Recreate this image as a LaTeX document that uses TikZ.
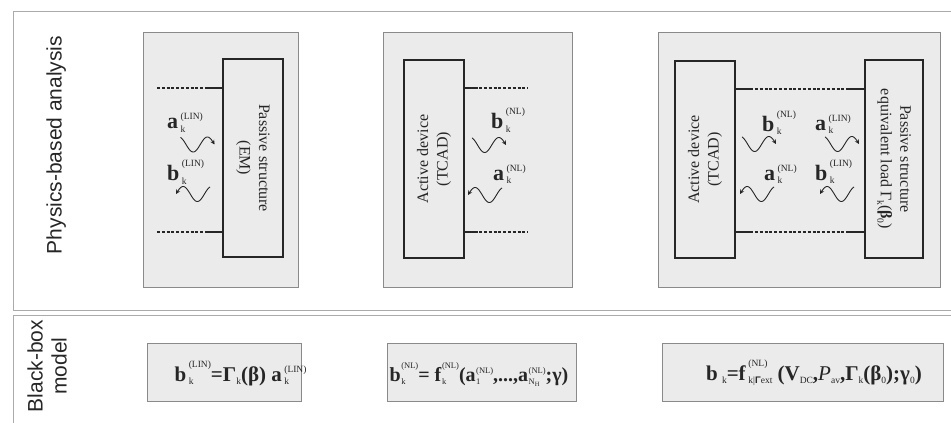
\documentclass[tikz,border=0pt]{standalone}
\usepackage{fontspec}
\setmainfont{Liberation Serif}
\setsansfont{Liberation Sans}
\usetikzlibrary{arrows.meta}

\definecolor{panelfill}{HTML}{EBEBEB}
\definecolor{panelline}{HTML}{8A8A8A}
\definecolor{frameline}{HTML}{ABABAB}
\definecolor{ink}{HTML}{262626}

% stacked sub/superscripts on a wave symbol
\newsavebox\subbx
\newsavebox\supbx
\newsavebox\basebx
\newlength\scrw
\newlength\supraise
\newlength\scrgap
\setlength\scrgap{2.5pt}
\def\scrpt{9.5}
\newcommand\scrfont{\fontsize{\scrpt}{10}\selectfont\mdseries\upshape}
\newcommand\wv[3]{%
  \sbox\basebx{#1}%
  \sbox\subbx{\scrfont #2}%
  \sbox\supbx{\scrfont #3}%
  \ifdim\wd\subbx>\wd\supbx \setlength\scrw{\wd\subbx}\else\setlength\scrw{\wd\supbx}\fi
  \setlength\supraise{\ht\basebx}\addtolength\supraise{-1.5pt}%
  \usebox\basebx\kern\scrgap\rlap{\raisebox{-3.5pt}{\usebox\subbx}}\rlap{\raisebox{\supraise}{\usebox\supbx}}\hspace{\scrw}}
\newcommand\lo[1]{\raisebox{-3.5pt}{\scrfont #1}}
\newcommand\loH{\raisebox{-2pt}{\fontsize{6.5}{7}\selectfont H}}

\begin{document}
\begin{tikzpicture}[x=1pt,y=-1pt,
  panel/.style={draw=panelline, fill=panelfill, line width=0.8pt, inner sep=0pt},
  block/.style={draw=ink, line width=1.4pt, inner sep=0pt},
  blocktext/.style={text=ink, font=\fontsize{16}{19.5}\selectfont, align=center, inner sep=0pt},
  port/.style={draw=ink, line width=1.3pt, dash pattern=on 3pt off 1.8pt},
  lead/.style={draw=ink, line width=1.3pt},
  lbl/.style={text=ink, font=\fontsize{22}{22}\selectfont, inner sep=0pt, anchor=base west},
  formula/.style={text=ink, font=\fontsize{21}{21}\selectfont, inner sep=0pt, anchor=base},
  tightformula/.style={text=ink, font={\fontsize{20}{20}\selectfont\def\scrpt{8.5}\setlength\scrgap{0.5pt}}, inner sep=0pt, anchor=base},
  side/.style={text=ink, font=\sffamily\fontsize{21}{24}\selectfont, align=center, inner sep=0pt, rotate=90},
  frame/.style={draw=frameline, line width=0.8pt},
  wavy/.style={draw=ink, line width=0.9pt, -{Stealth[length=4.5pt,width=4.5pt]}},
  wavr/.pic={\path[wavy] plot[domain=20:450, samples=50, smooth] ({(\x-20)/430*34}, {-7.5*cos(\x)});},
  wavl/.pic={\path[wavy] plot[domain=20:450, samples=50, smooth] ({34-(\x-20)/430*34}, {-7.5*cos(\x)});}
]
\useasboundingbox (0,0) rectangle (951,423);
\begin{scope}
\clip (0,0) rectangle (951,423);

% outer frames of the two rows
\draw[frame] (960,11) -- (13,11) -- (13,310) -- (960,310);
\draw[frame] (960,315) -- (13,315) -- (13,430);

% row captions
\node[side, anchor=base] (phys) at (61.5,145) {Physics-based analysis};
\node[side] (bbox) at (47,366) {Black-box\\model};

% ---------- first column: passive structure ----------
\node[panel, minimum width=155pt, minimum height=255pt] (g1) at (220.5,159.5) {};
\node[block, minimum width=60pt, minimum height=198pt] (r1) at (253,158) {};
\node[blocktext, rotate=-90] (t1) at (r1.center) {Passive structure\\(EM)};
\coordinate (p1u) at (157,88);
\coordinate (p1d) at (157,232);
\draw[port] (p1u) -- (p1u -| r1.west);
\draw[lead] ([xshift=-16pt]p1u -| r1.west) -- (p1u -| r1.west);
\draw[port] (p1d) -- (p1d -| r1.west);
\draw[lead] ([xshift=-16pt]p1d -| r1.west) -- (p1d -| r1.west);
\node[lbl] (a1) at (167,128.5) {\wv{\textbf{a}}{k}{(LIN)}};
\node[lbl] (b1) at (167,180.5) {\wv{\textbf{b}}{k}{(LIN)}};
\pic at (180.5,144.5) {wavr};
\pic at (176,194) {wavl};

% ---------- second column: active device ----------
\node[panel, minimum width=189pt, minimum height=255pt] (g2) at (477.5,159.5) {};
\node[block, minimum width=60pt, minimum height=198pt] (r2) at (434,159) {};
\node[blocktext, rotate=90] (t2) at (r2.center) {Active device\\(TCAD)};
\coordinate (p2u) at (528,88);
\coordinate (p2d) at (528,232);
\draw[port] (p2u -| r2.east) -- (p2u);
\draw[lead] (p2u -| r2.east) -- ([xshift=13pt]p2u -| r2.east);
\draw[port] (p2d -| r2.east) -- (p2d);
\draw[lead] (p2d -| r2.east) -- ([xshift=13pt]p2d -| r2.east);
\node[lbl] (b2) at (491,128.5) {\wv{\textbf{b}}{k}{(NL)}};
\node[lbl] (a2) at (493,180) {\wv{\textbf{a}}{k}{(NL)}};
\pic at (472,145) {wavr};
\pic at (468,195) {wavl};

% ---------- third column: device with equivalent load ----------
\node[panel, minimum width=282pt, minimum height=255pt] (g3) at (799,159.5) {};
\node[block, minimum width=60pt, minimum height=197pt] (r3l) at (705,159.5) {};
\node[block, minimum width=58pt, minimum height=198pt] (r3r) at (894,159) {};
\node[blocktext, rotate=90] (t3l) at (r3l.center) {Active device\\(TCAD)};
\node[blocktext, rotate=-90] (t3r) at (r3r.center) {Passive structure\\equivalent load Γ\lo{k}(\textbf{β}\lo{0})};
\coordinate (p3u) at (800,89);
\coordinate (p3d) at (800,232);
\draw[port] (p3u -| r3l.east) -- (p3u -| r3r.west);
\draw[lead] (p3u -| r3l.east) -- ([xshift=15pt]p3u -| r3l.east);
\draw[lead] ([xshift=-15pt]p3u -| r3r.west) -- (p3u -| r3r.west);
\draw[port] (p3d -| r3l.east) -- (p3d -| r3r.west);
\draw[lead] (p3d -| r3l.east) -- ([xshift=15pt]p3d -| r3l.east);
\draw[lead] ([xshift=-15pt]p3d -| r3r.west) -- (p3d -| r3r.west);
\node[lbl] (b3n) at (762,131) {\wv{\textbf{b}}{k}{(NL)}};
\node[lbl] (a3l) at (815,130) {\wv{\textbf{a}}{k}{(LIN)}};
\node[lbl] (a3n) at (764,180) {\wv{\textbf{a}}{k}{(NL)}};
\node[lbl] (b3l) at (815,180) {\wv{\textbf{b}}{k}{(LIN)}};
\pic at (742,144) {wavr};
\pic at (825,144) {wavr};
\pic at (740,194) {wavl};
\pic at (820,194) {wavl};

% ---------- black-box models ----------
\node[panel, minimum width=154pt, minimum height=58pt] (f1) at (224,372) {};
\node[panel, minimum width=189pt, minimum height=58pt] (f2) at (481.5,372) {};
\node[panel, minimum width=281pt, minimum height=58pt] (f3) at (802.5,372) {};
\node[formula] (m1) at (229.5,381)
  {\wv{\textbf{b}}{k}{(LIN)}\textbf{=Γ}\lo{k}\textbf{(β)} \wv{\textbf{a}}{k}{(LIN)}};
\node[tightformula] (m2) at (479,381)
  {\wv{\textbf{b}}{k}{(NL)}\textbf{= }\wv{\textbf{f}}{k}{(NL)}\textbf{(}\wv{\textbf{a}}{1}{(NL)}\textbf{,...,}\wv{\textbf{a}}{N\loH}{(NL)}\textbf{;γ)}};
\node[formula] (m3) at (814,380)
  {\wv{\textbf{b}}{\,k}{}\textbf{=}\wv{\textbf{f}}{k|{\sffamily\bfseries Γ}ext}{(NL)} \textbf{(V}\lo{DC}\textbf{,}\textit{P}\lo{av}\textbf{,Γ}\lo{k}\textbf{(β}\lo{0}\textbf{);γ}\lo{0}\textbf{)}};
\end{scope}
\end{tikzpicture}
\end{document}
